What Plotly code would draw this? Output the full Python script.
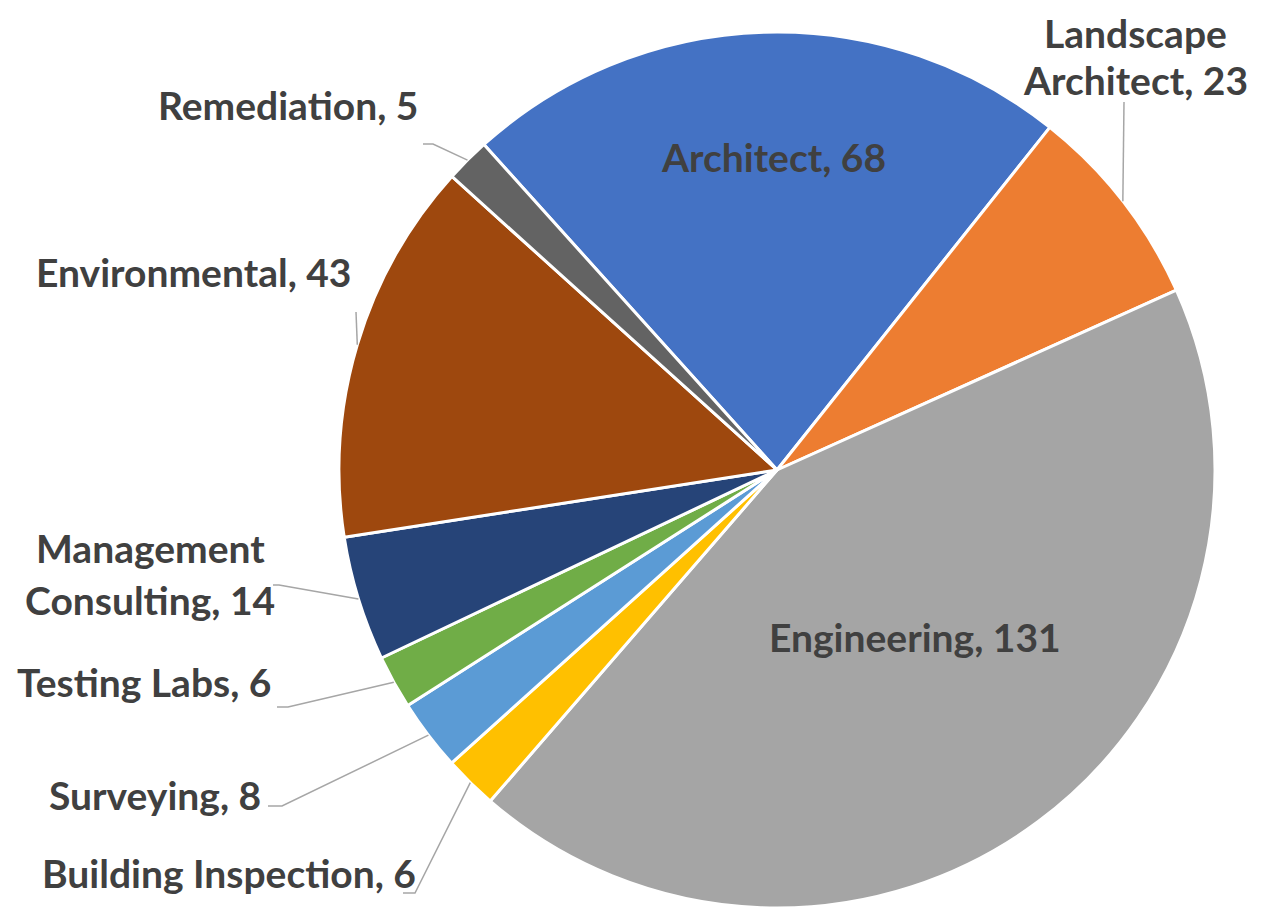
import math
import plotly.graph_objects as go

# ---- data ----
categories = ["Architect", "Landscape Architect", "Engineering", "Building Inspection",
              "Surveying", "Testing Labs", "Management Consulting", "Environmental", "Remediation"]
values = [68, 23, 131, 6, 8, 6, 14, 43, 5]
colors = ["#4472C4", "#ED7D31", "#A5A5A5", "#FFC000", "#5B9BD5",
          "#70AD47", "#264478", "#9E480E", "#636363"]

# page offset (browser default body margin) and figure size
OFF = 8
W, H = 1276 - OFF, 911 - OFF
CX, CY, R = 777, 470, 438
ROT = -42.0  # start angle of first slice, degrees clockwise from 12 o'clock

TXT = "#404040"
FONT = "Lato"
FS = 39
LINE_C = "#A6A6A6"

# label layout in page pixels: (lines, x, y_of_first_line, xanchor, line gap, leader label-side points)
label_layout = {
    "Architect": (["Architect, 68"], 773, 157, "center", 0, None),
    "Engineering": (["Engineering, 131"], 915, 637, "center", 0, None),
    "Landscape Architect": (["Landscape", "Architect, 23"], 1135, 33, "center", 47, [(1124, 102)]),
    "Remediation": (["Remediation, 5"], 420, 105, "right", 0, [(423, 144), (433, 144)]),
    "Environmental": (["Environmental, 43"], 353, 272, "right", 0, [(356, 312)]),
    "Management Consulting": (["Management", "Consulting, 14"], 150, 548, "center", 52, [(273, 585), (279, 585)]),
    "Testing Labs": (["Testing Labs, 6"], 273, 682, "right", 0, [(277, 707), (288, 707)]),
    "Surveying": (["Surveying, 8"], 263, 795, "right", 0, [(268, 806), (282, 806)]),
    "Building Inspection": (["Building Inspection, 6"], 418, 873, "right", 0, [(403, 893), (415, 893)]),
}

def px(x):
    return (x - OFF) / W

def py(y):
    return 1 - (y - OFF) / H

fig = go.Figure(go.Pie(
    labels=categories,
    values=values,
    sort=False,
    direction="clockwise",
    rotation=ROT,
    marker=dict(colors=colors, line=dict(color="white", width=3)),
    textinfo="none",
    hoverinfo="label+value",
    domain=dict(x=[px(CX - R), px(CX + R)], y=[py(CY + R), py(CY - R)]),
    showlegend=False,
))

annotations = []
shapes = []
total = sum(values)
cum = 0
for cat, v in zip(categories, values):
    mid = ROT + (cum + v / 2) / total * 360
    cum += v
    lines, lx, ly, anchor, gap, leader = label_layout[cat]
    for i, t in enumerate(lines):
        annotations.append(dict(
            x=px(lx), y=py(ly + i * gap), xref="paper", yref="paper",
            text=t, showarrow=False, xanchor=anchor, yanchor="middle",
            font=dict(family=FONT, size=FS, color=TXT, weight="bold"),
        ))
    if leader:
        a = math.radians(mid)
        ex = CX + R * math.sin(a)
        ey = CY - R * math.cos(a)
        pts = list(leader) + [(ex, ey)]
        path = "M " + " L ".join(f"{px(x)},{py(y)}" for x, y in pts)
        shapes.append(dict(type="path", path=path, xref="paper", yref="paper",
                           line=dict(color=LINE_C, width=1.5)))

fig.update_layout(
    width=W, height=H,
    margin=dict(l=0, r=0, t=0, b=0),
    paper_bgcolor="white", plot_bgcolor="white",
    annotations=annotations, shapes=shapes,
)

fig.write_html("out.html")
